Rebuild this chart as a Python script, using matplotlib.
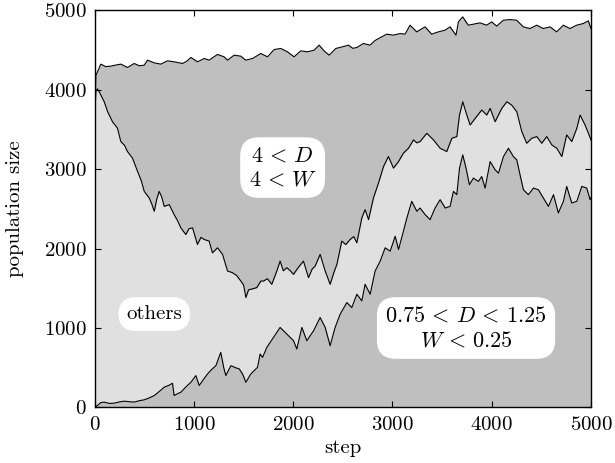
import matplotlib
matplotlib.use("Agg")
import matplotlib.pyplot as plt

plt.rcParams['font.family'] = 'serif'
plt.rcParams['font.serif'] = ['cmr10']
plt.rcParams['mathtext.fontset'] = 'cm'
plt.rcParams['axes.formatter.use_mathtext'] = True

# cumulative population: top edge of each stacked class
total_steps = [0, 12, 28, 62, 110, 163, 215, 264, 331, 398, 450, 499, 532, 600, 666, 734, 801, 885,
               930, 969, 1036, 1103, 1153, 1237, 1304, 1338, 1405, 1472, 1522, 1590, 1673, 1741,
               1808, 1875, 1942, 2009, 2076, 2144, 2211, 2261, 2311, 2362, 2429, 2496, 2556, 2600,
               2640, 2707, 2774, 2825, 2892, 2942, 3009, 3076, 3127, 3177, 3244, 3328, 3395, 3462,
               3529, 3580, 3640, 3664, 3707, 3764, 3815, 3882, 3949, 3999, 4050, 4117, 4184, 4251,
               4318, 4385, 4453, 4520, 4587, 4654, 4721, 4788, 4855, 4922, 4973, 5000]
total_pop = [3650, 4180, 4224, 4321, 4290, 4296, 4310, 4321, 4279, 4329, 4300, 4308, 4371, 4337,
             4321, 4363, 4350, 4329, 4360, 4405, 4350, 4392, 4371, 4443, 4413, 4371, 4434, 4421,
             4371, 4392, 4455, 4413, 4505, 4518, 4476, 4413, 4488, 4476, 4497, 4560, 4488, 4434,
             4518, 4539, 4560, 4520, 4530, 4581, 4560, 4619, 4665, 4698, 4686, 4706, 4698, 4811,
             4727, 4790, 4698, 4727, 4748, 4790, 4686, 4853, 4916, 4811, 4824, 4840, 4811, 4853,
             4799, 4874, 4882, 4874, 4790, 4769, 4811, 4769, 4790, 4727, 4811, 4769, 4811, 4832,
             4866, 4769]

others_steps = [0, 12, 28, 62, 95, 130, 179, 230, 263, 300, 330, 381, 432, 470, 499, 549, 575, 600,
                625, 649, 675, 700, 751, 800, 835, 868, 918, 950, 986, 1035, 1070, 1103, 1153, 1186,
                1237, 1288, 1338, 1388, 1430, 1472, 1500, 1523, 1550, 1573, 1633, 1674, 1701, 1740,
                1784, 1830, 1868, 1900, 1936, 1970, 2003, 2050, 2103, 2154, 2190, 2221, 2271, 2322,
                2372, 2410, 2440, 2489, 2530, 2573, 2610, 2641, 2691, 2724, 2759, 2808, 2859, 2910,
                2959, 3010, 3061, 3110, 3161, 3212, 3245, 3278, 3345, 3413, 3480, 3547, 3598, 3648,
                3675, 3708, 3749, 3782, 3833, 3899, 3950, 3984, 4034, 4101, 4152, 4201, 4252, 4303,
                4352, 4403, 4454, 4504, 4554, 4605, 4655, 4706, 4755, 4806, 4857, 4890, 4940, 4974,
                5000]
others_pop = [3650, 3980, 4010, 3931, 3850, 3722, 3596, 3513, 3346, 3300, 3221, 3137, 2970, 2850,
              2719, 2636, 2560, 2469, 2620, 2719, 2650, 2531, 2552, 2427, 2350, 2260, 2176, 2250,
              2260, 2051, 2140, 2114, 2093, 1946, 2009, 1926, 1717, 1696, 1660, 1591, 1540, 1383,
              1480, 1487, 1508, 1591, 1591, 1620, 1550, 1700, 1842, 1720, 1759, 1720, 1675, 1760,
              1842, 1633, 1740, 1779, 1926, 1717, 1550, 1700, 1800, 2093, 2050, 2114, 2150, 2072,
              2385, 2490, 2364, 2636, 2824, 3033, 3158, 3012, 3095, 3200, 3262, 3367, 3330, 3346,
              3450, 3367, 3262, 3221, 3388, 3409, 3680, 3847, 3680, 3555, 3638, 3743, 3680, 3764,
              3596, 3764, 3847, 3805, 3722, 3471, 3325, 3388, 3409, 3325, 3409, 3304, 3262, 3158,
              3430, 3346, 3513, 3680, 3555, 3450, 3367]

narrow_steps = [0, 28, 60, 95, 150, 197, 250, 297, 350, 398, 450, 499, 550, 600, 650, 700, 750, 784,
                800, 830, 868, 920, 969, 1019, 1053, 1100, 1137, 1180, 1221, 1270, 1300, 1321, 1372,
                1420, 1456, 1490, 1523, 1573, 1640, 1667, 1691, 1734, 1801, 1868, 1936, 2003, 2036,
                2087, 2137, 2205, 2271, 2322, 2372, 2422, 2473, 2540, 2590, 2641, 2691, 2724, 2775,
                2825, 2876, 2926, 2977, 3027, 3061, 3110, 3145, 3194, 3245, 3278, 3329, 3379, 3429,
                3480, 3531, 3580, 3614, 3648, 3675, 3708, 3741, 3775, 3815, 3866, 3899, 3933, 3984,
                4034, 4068, 4118, 4168, 4218, 4252, 4285, 4319, 4369, 4420, 4470, 4520, 4571, 4622,
                4671, 4722, 4755, 4806, 4857, 4907, 4957, 4991, 5000]
narrow_pop = [0, 25, 60, 67, 50, 54, 70, 79, 72, 67, 85, 96, 120, 150, 200, 255, 280, 305, 150, 170,
              192, 260, 317, 401, 276, 360, 422, 480, 526, 693, 500, 401, 526, 500, 485, 420, 317,
              422, 505, 673, 630, 756, 881, 1007, 923, 840, 735, 1007, 840, 965, 1132, 1007, 777,
              1007, 1174, 1320, 1257, 1425, 1341, 1550, 1425, 1717, 1842, 2009, 1967, 2155, 1988,
              2218, 2385, 2594, 2469, 2510, 2427, 2364, 2510, 2615, 2510, 2530, 2719, 2678, 3012,
              3179, 3012, 2803, 2886, 2845, 2907, 2761, 3095, 2991, 2949, 3158, 3262, 3158, 3117,
              2928, 2740, 2678, 2761, 2740, 2636, 2531, 2678, 2448, 2594, 2782, 2573, 2594, 2782,
              2761, 2615, 2640]

dark = '#bfbfbf'
light = '#e0e0e0'

fig = plt.figure(figsize=(6.15, 4.63), dpi=100)
ax = fig.add_axes([0.154, 0.12, 0.807, 0.858])

# paint from the top band down so each layer covers the one beneath it
ax.fill_between(total_steps, 0, total_pop, color=dark, lw=0)
ax.fill_between(others_steps, 0, others_pop, color=light, lw=0)
ax.fill_between(narrow_steps, 0, narrow_pop, color=dark, lw=0)
for xs, ys in [(total_steps, total_pop), (others_steps, others_pop), (narrow_steps, narrow_pop)]:
    ax.plot(xs, ys, color='black', lw=0.8)

box = dict(boxstyle='round,pad=0.38,rounding_size=0.85', fc='white', ec='none')
ax.text(1893, 3019, r'$4\,<\,D$' + '\n' + r'$4\,<\,W$', ha='center', va='center',
        fontsize=16, linespacing=1.3, bbox=box)
ax.text(600, 1175, 'others', ha='center', va='center', fontsize=15, bbox=box)
ax.text(3741, 1000, r'$0.75\,<\,D\,<\,1.25$' + '\n' + r'$W\,<\,0.25$', ha='center',
        va='center', fontsize=16, linespacing=1.3, bbox=box)

ax.set_xlim(0, 5000)
ax.set_ylim(0, 5000)
ax.set_xticks(range(0, 5001, 1000))
ax.set_yticks(range(0, 5001, 1000))
ax.tick_params(direction='in', top=True, right=True, length=4, width=0.8, labelsize=15, pad=6)
for s in ax.spines.values():
    s.set_linewidth(1.0)
ax.set_xlabel('step', fontsize=15, labelpad=4)
ax.set_ylabel('population size', fontsize=15, labelpad=14)

fig.savefig('out.png', dpi=100)
